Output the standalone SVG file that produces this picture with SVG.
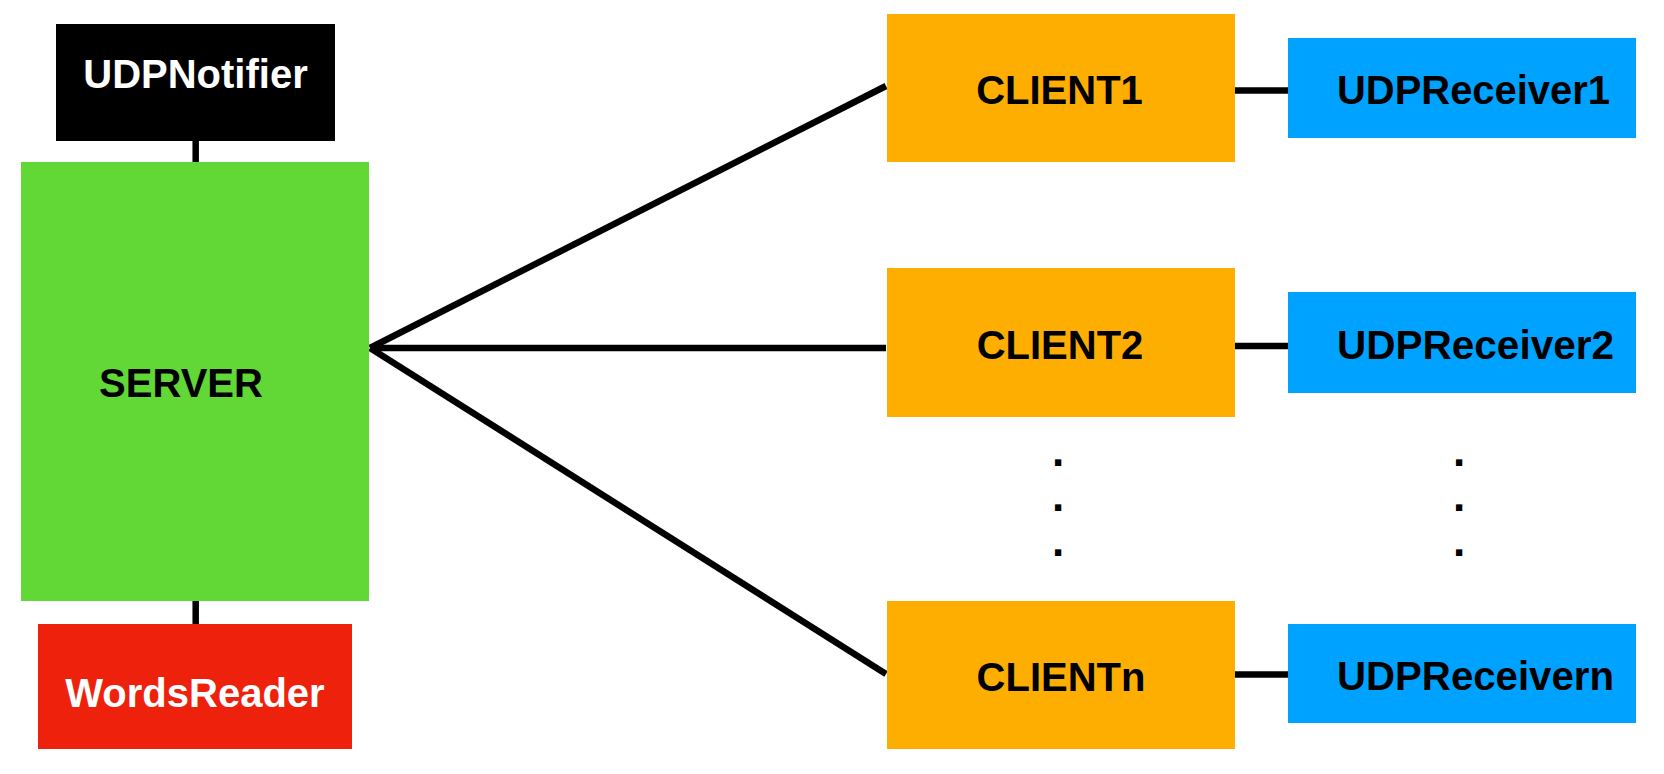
<svg xmlns="http://www.w3.org/2000/svg" width="1664" height="774" viewBox="0 0 1664 774">
<style>
  .lbl { font-family: "Liberation Sans", Arial, Helvetica, sans-serif; font-weight: bold; font-size: 40px; }
  .dark { fill: #000000; }
  .light { fill: #ffffff; }
  .conn { stroke: #000000; stroke-width: 6.5; fill: none; stroke-linecap: butt; }
  .dot { font-family: "Liberation Sans", Arial, sans-serif; font-weight: bold; font-size: 44px; fill: #000000; text-anchor: middle; }
</style>
<rect width="1664" height="774" fill="#ffffff"/>
<g id="connectors">
  <line class="conn" x1="195.7" y1="140" x2="195.7" y2="163"/>
  <line class="conn" x1="195.7" y1="600" x2="195.7" y2="625"/>
  <line class="conn" x1="370" y1="348" x2="886" y2="86"/>
  <line class="conn" x1="370" y1="348" x2="886" y2="348"/>
  <line class="conn" x1="370" y1="348" x2="886" y2="674"/>
  <line class="conn" x1="1234" y1="90.5" x2="1289" y2="90.5"/>
  <line class="conn" x1="1234" y1="346" x2="1289" y2="346"/>
  <line class="conn" x1="1234" y1="674.5" x2="1289" y2="674.5"/>
</g>
<g id="udpnotifier">
  <rect x="56" y="24" width="279" height="117" fill="#000000"/>
  <text class="lbl light" x="195.5" y="88" text-anchor="middle">UDPNotifier</text>
</g>
<g id="server">
  <rect x="21" y="162" width="348" height="439" fill="#61D836"/>
  <text class="lbl dark" x="181" y="397" text-anchor="middle">SERVER</text>
</g>
<g id="wordsreader">
  <rect x="38" y="624" width="314" height="125" fill="#EE220C"/>
  <text class="lbl light" x="195" y="707" text-anchor="middle">WordsReader</text>
</g>
<g id="client1">
  <rect x="887" y="14" width="348" height="148" fill="#FEAE00"/>
  <text class="lbl dark" x="1059.5" y="104" text-anchor="middle">CLIENT1</text>
</g>
<g id="client2">
  <rect x="887" y="268" width="348" height="149" fill="#FEAE00"/>
  <text class="lbl dark" x="1060" y="359" text-anchor="middle">CLIENT2</text>
</g>
<g id="clientn">
  <rect x="887" y="601" width="348" height="148" fill="#FEAE00"/>
  <text class="lbl dark" x="1061" y="691" text-anchor="middle">CLIENTn</text>
</g>
<g id="udpreceiver1">
  <rect x="1288" y="38" width="348" height="100" fill="#00A2FF"/>
  <text class="lbl dark" x="1337" y="104" textLength="273" lengthAdjust="spacingAndGlyphs">UDPReceiver1</text>
</g>
<g id="udpreceiver2">
  <rect x="1288" y="292" width="348" height="101" fill="#00A2FF"/>
  <text class="lbl dark" x="1337" y="359" textLength="277" lengthAdjust="spacingAndGlyphs">UDPReceiver2</text>
</g>
<g id="udpreceivern">
  <rect x="1288" y="624" width="348" height="99" fill="#00A2FF"/>
  <text class="lbl dark" x="1337" y="689.5" textLength="277" lengthAdjust="spacingAndGlyphs">UDPReceivern</text>
</g>
<g id="ellipsis-clients">
  <text class="dot" x="1058" y="466">.</text>
  <text class="dot" x="1058" y="511">.</text>
  <text class="dot" x="1058" y="556">.</text>
</g>
<g id="ellipsis-receivers">
  <text class="dot" x="1459" y="466">.</text>
  <text class="dot" x="1459" y="511">.</text>
  <text class="dot" x="1459" y="556">.</text>
</g>
</svg>
